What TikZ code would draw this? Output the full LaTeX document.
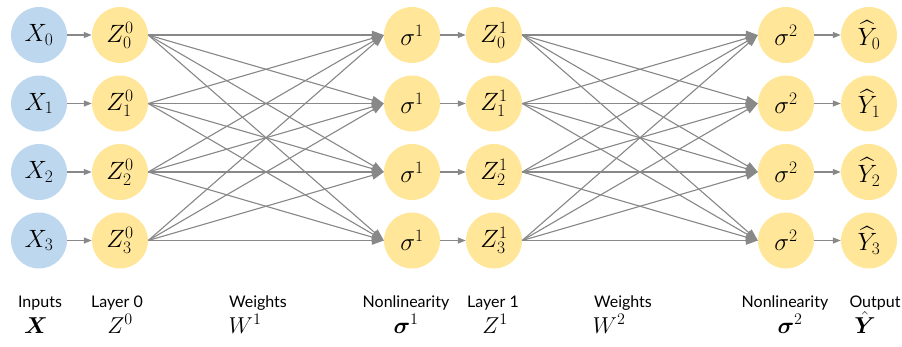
\RequirePackage{fix-cm}
\documentclass[tikz,border=0pt]{standalone}
\usepackage{amsmath,bm}
\usepackage{fontspec}
\newfontfamily\labfont{Lato}
\usetikzlibrary{arrows.meta}
\definecolor{inblue}{RGB}{189,215,238}
\definecolor{nodeyel}{RGB}{255,230,153}
\definecolor{edgegray}{RGB}{136,136,136}
\tikzset{
  neuron/.style={circle, minimum size=56pt, inner sep=0pt, font=\fontsize{25}{28}\selectfont},
  inneuron/.style={neuron, fill=inblue},
  yneuron/.style={neuron, fill=nodeyel},
  shortarr/.style={draw=edgegray, line width=1.2pt, -{Triangle[length=8pt,width=6pt]}, fill=edgegray},
  longarr/.style={draw=edgegray, line width=1.1pt, -{Triangle[length=12pt,width=8.5pt]}, fill=edgegray},
  labtext/.style={font=\labfont\fontsize{16}{18}\selectfont, anchor=base},
  symtext/.style={font=\fontsize{23}{26}\selectfont, anchor=base}
}
\begin{document}
\begin{tikzpicture}[x=1pt,y=-1pt]
\useasboundingbox (0,0) rectangle (902,346);
\foreach \i in {0,1,2,3}{
  \pgfmathsetmacro{\yy}{35+68.5*\i}
  \node[inneuron] (x\i) at (39,\yy) {$X_{\i}$};
  \node[yneuron] (z\i) at (120,\yy) {$Z^{0}_{\i}$};
  \node[yneuron] (s\i) at (412,\yy) {$\sigma^{1}$};
  \node[yneuron] (u\i) at (494,\yy) {$Z^{1}_{\i}$};
  \node[yneuron] (t\i) at (786,\yy) {$\sigma^{2}$};
  \node[yneuron] (y\i) at (869,\yy) {$\widehat{Y}_{\i}$};
  \draw[shortarr] (x\i) -- (z\i);
  \draw[shortarr] (s\i) -- (u\i);
  \draw[shortarr] (t\i) -- (y\i);
}
\foreach \i in {0,1,2,3}{
  \foreach \j in {0,1,2,3}{
    \draw[longarr] (z\i.east) -- (s\j.west);
    \draw[longarr] (u\i.east) -- (t\j.west);
  }
}
\node[labtext] (l1) at (40,307) {Inputs};
\node[labtext] (l2) at (117,307) {Layer 0};
\node[labtext] (l3) at (258,307) {Weights};
\node[labtext] (l4) at (406,307) {Nonlinearity};
\node[labtext] (l5) at (493,307) {Layer 1};
\node[labtext] (l6) at (623,307) {Weights};
\node[labtext] (l7) at (785,307) {Nonlinearity};
\node[labtext] (l8) at (875,307) {Output};
\node[symtext] (m1) at (36,333) {$\bm{X}$};
\node[symtext] (m2) at (120,333) {$Z^{0}$};
\node[symtext] (m3) at (245,333) {$W^{1}$};
\node[symtext] (m4) at (406,333) {$\bm{\sigma}^{1}$};
\node[symtext] (m5) at (495,333) {$Z^{1}$};
\node[symtext] (m6) at (609,333) {$W^{2}$};
\node[symtext] (m7) at (790,333) {$\bm{\sigma}^{2}$};
\node[symtext] (m8) at (865,333) {$\bm{\hat{Y}}$};
\end{tikzpicture}
\end{document}
